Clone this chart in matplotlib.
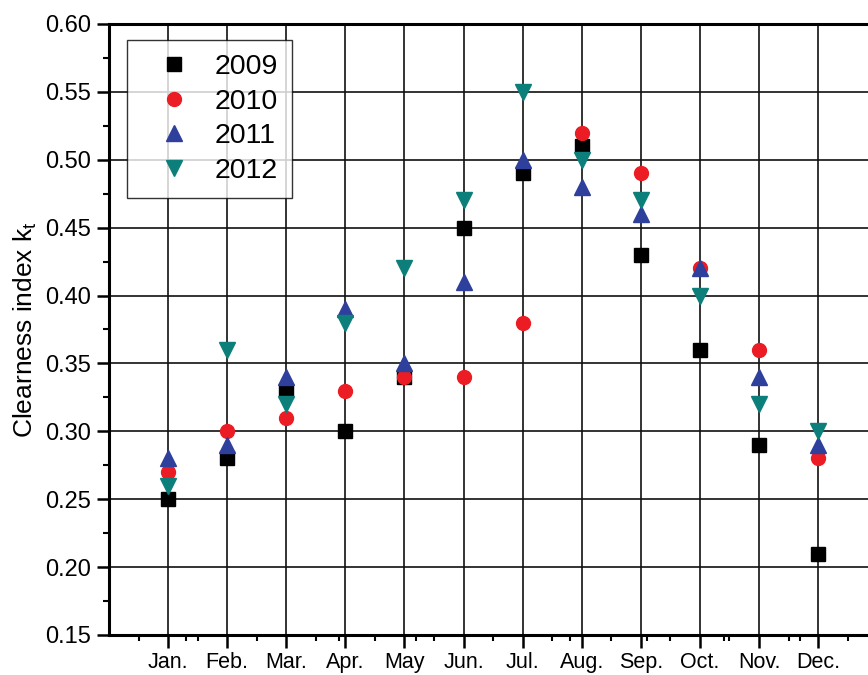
import numpy as np
import matplotlib
matplotlib.use('Agg')
import matplotlib.pyplot as plt
from matplotlib.ticker import MultipleLocator, FixedLocator

plt.rcParams['font.family'] = ['Liberation Sans', 'DejaVu Sans']
plt.rcParams['mathtext.fontset'] = 'custom'
plt.rcParams['mathtext.rm'] = 'Liberation Sans'
plt.rcParams['mathtext.it'] = 'Liberation Sans'

months = ['Jan.', 'Feb.', 'Mar.', 'Apr.', 'May', 'Jun.',
          'Jul.', 'Aug.', 'Sep.', 'Oct.', 'Nov.', 'Dec.']
kt_2009 = [0.25, 0.28, 0.33, 0.30, 0.34, 0.45, 0.49, 0.51, 0.43, 0.36, 0.29, 0.21]
kt_2010 = [0.27, 0.30, 0.31, 0.33, 0.34, 0.34, 0.38, 0.52, 0.49, 0.42, 0.36, 0.28]
kt_2011 = [0.28, 0.29, 0.34, 0.39, 0.35, 0.41, 0.50, 0.48, 0.46, 0.42, 0.34, 0.29]
kt_2012 = [0.26, 0.36, 0.32, 0.38, 0.42, 0.47, 0.55, 0.50, 0.47, 0.40, 0.32, 0.30]

x = np.arange(1, len(months) + 1)

fig = plt.figure(figsize=(8.68, 6.75), dpi=100)
# axes run a little past the right edge, so the right spine falls outside
ax = fig.add_axes([0.1256, 0.0593, 0.885, 0.9052])

ax.plot(x, kt_2009, 's', color='black', ms=9.5, label='2009', zorder=3)
ax.plot(x, kt_2010, 'o', color='#ec1c24', ms=10, label='2010', zorder=3)
ax.plot(x, kt_2011, '^', color='#2e3f9c', ms=11, label='2011', zorder=3)
ax.plot(x, kt_2012, 'v', color='#0c7f7b', ms=11, label='2012', zorder=3)

ax.set_xlim(0, 13)
ax.set_ylim(0.15, 0.60)

ax.set_xticks(x)
ax.set_xticklabels(months, fontsize=15.5)
minor_x = list(np.arange(0.5, 13, 1.0)) + [1.3, 3.9, 5.2, 7.8, 9.1, 10.4, 11.7]
ax.xaxis.set_minor_locator(FixedLocator(minor_x))
ax.yaxis.set_major_locator(MultipleLocator(0.05))
ax.yaxis.set_minor_locator(MultipleLocator(0.025))
ax.yaxis.set_major_formatter(matplotlib.ticker.FormatStrFormatter('%.2f'))
ax.tick_params(axis='y', labelsize=17, pad=4)

ax.tick_params(which='major', direction='out', length=9, width=1.8)
ax.tick_params(which='minor', direction='out', length=4.5, width=1.5)
ax.tick_params(axis='x', pad=3)

for side in ['left', 'bottom', 'top']:
    ax.spines[side].set_linewidth(2.2)
ax.spines['right'].set_visible(False)

ax.grid(True, which='major', color='#111111', linewidth=1.2)
ax.set_axisbelow(True)

ax.set_ylabel('Clearness index k$_t$', fontsize=19, labelpad=4)

leg = ax.legend(loc='upper left', bbox_to_anchor=(0.024, 0.974), fontsize=20.5,
                frameon=True, fancybox=False, edgecolor='black',
                handletextpad=0.25, borderpad=0.5, labelspacing=0.3,
                handlelength=2.3, borderaxespad=0)
leg.get_frame().set_linewidth(1.0)

plt.savefig('out.png', dpi=100)
plt.close()
